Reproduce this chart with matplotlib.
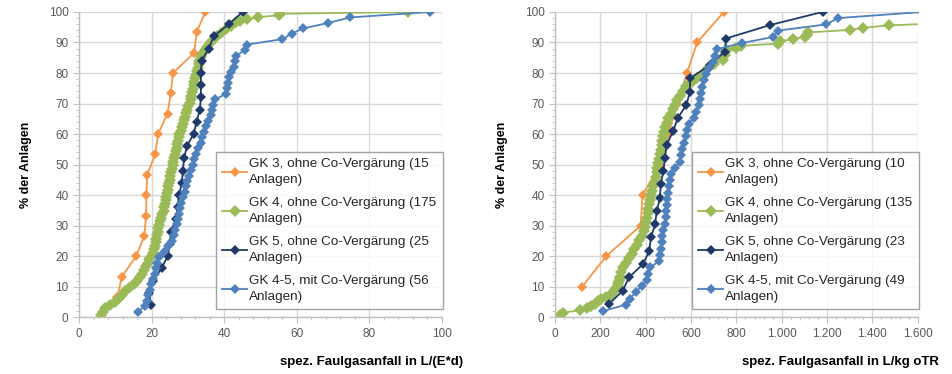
import matplotlib
matplotlib.use("Agg")
import matplotlib.pyplot as plt
from matplotlib.ticker import MultipleLocator

plt.rcParams["font.family"] = ["Liberation Sans", "DejaVu Sans"]

# ---------- Daten ----------
# linkes Diagramm: spez. Faulgasanfall in L/(E*d)
gk3_l_x = [10.6, 11.8, 15.8, 18.0, 18.5, 18.6, 18.8, 21.0, 21.8, 24.4, 25.3, 25.9, 31.8, 32.4, 34.8]
gk3_l_y = [6.7, 13.3, 20.0, 26.7, 33.3, 40.0, 46.7, 53.3, 60.0, 66.7, 73.3, 80.0, 86.7, 93.3, 100.0]

gk4_l_x = [6.0, 6.6, 7.3, 8.5, 9.8, 10.9, 11.8, 12.8, 13.9, 15.2, 16.0, 16.8, 17.3, 17.8, 18.4,
           18.9, 19.4, 20.0, 20.3, 20.6, 20.9, 21.1, 21.3, 21.5, 21.7, 21.9, 22.1, 22.4, 22.7, 23.0,
           23.3, 23.5, 23.7, 23.9, 24.0, 24.2, 24.4, 24.6, 24.8, 25.0, 25.2, 25.4, 25.6, 25.8, 26.0,
           26.2, 26.5, 26.7, 26.9, 27.1, 27.3, 27.5, 27.7, 28.0, 28.3, 28.6, 28.9, 29.2, 29.5, 29.8,
           30.1, 30.5, 30.8, 31.0, 31.2, 31.4, 31.6, 31.8, 32.0, 32.2, 32.5, 32.7, 33.0, 33.2, 33.5,
           34.0, 34.6, 35.2, 36.0, 37.0, 38.0, 39.2, 40.5, 42.0, 43.4, 44.5, 46.2, 49.4, 55.0, 55.4,
           90.7]
gk4_l_y = [0.6, 1.7, 2.9, 4.0, 5.1, 6.3, 7.4, 8.6, 9.7, 10.9, 12.0, 13.1, 14.3, 15.4, 16.6,
           17.7, 18.9, 20.0, 21.1, 22.3, 23.4, 24.6, 25.7, 26.9, 28.0, 29.1, 30.3, 31.4, 32.6, 33.7,
           34.9, 36.0, 37.1, 38.3, 39.4, 40.6, 41.7, 42.9, 44.0, 45.1, 46.3, 47.4, 48.6, 49.7, 50.9,
           52.0, 53.1, 54.3, 55.4, 56.6, 57.7, 58.9, 60.0, 61.1, 62.3, 63.4, 64.6, 65.7, 66.9, 68.0,
           69.1, 70.3, 71.4, 72.6, 73.7, 74.9, 76.0, 77.1, 78.3, 79.4, 80.6, 81.7, 82.9, 84.0, 85.1,
           86.3, 87.4, 88.6, 89.7, 90.9, 92.0, 93.1, 94.3, 95.4, 96.6, 97.1, 97.7, 98.3, 98.9, 99.4,
           100.0]

gk5_l_x = [19.8, 19.4, 20.3, 22.8, 24.4, 25.1, 25.3, 26.7, 27.2, 27.5, 28.4, 28.6, 29.0, 29.7,
           31.6, 32.4, 33.3, 33.6, 33.6, 33.6, 33.8, 35.8, 37.1, 41.3, 45.1]
gk5_l_y = [4, 8, 12, 16, 20, 24, 28, 32, 36, 40, 44, 48, 52, 56, 60, 64, 68, 72, 76, 80, 84, 88,
           92, 96, 100]

gk45_l_x = [16.2, 18.2, 18.8, 19.1, 19.6, 19.8, 20.3, 20.9, 21.3, 21.6, 22.0, 23.3, 24.5, 25.5,
            26.2, 26.6, 27.0, 27.4, 27.6, 27.8, 28.2, 28.6, 29.1, 29.4, 29.8, 30.3, 30.8, 31.4,
            31.8, 32.3, 32.9, 33.5, 34.0, 34.4, 34.9, 35.5, 36.3, 36.7, 37.0, 37.6, 40.6, 40.9,
            41.1, 41.4, 41.8, 42.6, 43.1, 43.4, 45.7, 46.2, 56.1, 58.6, 61.8, 68.7, 74.7, 96.7]
gk45_l_y = [1.8, 3.6, 5.4, 7.1, 8.9, 10.7, 12.5, 14.3, 16.1, 17.9, 19.6, 21.4, 23.2, 25.0,
            26.8, 28.6, 30.4, 32.1, 33.9, 35.7, 37.5, 39.3, 41.1, 42.9, 44.6, 46.4, 48.2, 50.0,
            51.8, 53.6, 55.4, 57.1, 58.9, 60.7, 62.5, 64.3, 66.1, 67.9, 69.6, 71.4, 73.2, 75.0,
            76.8, 78.6, 80.4, 82.1, 83.9, 85.7, 87.5, 89.3, 91.1, 92.9, 94.6, 96.4, 98.2, 100.0]

# rechtes Diagramm: spez. Faulgasanfall in L/kg oTR
gk3_r_x = [120, 226, 378, 386, 463, 500, 540, 582, 627, 745]
gk3_r_y = [10, 20, 30, 40, 50, 60, 70, 80, 90, 100]

gk4_r_x = [22, 35, 110, 140, 160, 178, 190, 205, 225, 245, 257, 265, 270, 276, 280, 284, 286,
           288, 292, 302, 315, 327, 340, 350, 360, 372, 385, 391, 395, 400, 404, 408, 411, 415,
           419, 425, 430, 433, 440, 446, 448, 451, 456, 460, 464, 467, 470, 472, 475, 480, 487,
           492, 500, 511, 520, 530, 540, 553, 565, 580, 605, 628, 655, 675, 700, 742, 752, 757,
           800, 820, 984, 994, 1050, 1102, 1110, 1116, 1300, 1359, 1473, 1700, 2000, 2500]
gk4_r_y = [0.7, 1.5, 2.2, 3.0, 3.7, 4.4, 5.2, 5.9, 6.7, 7.4, 8.1, 8.9, 9.6, 10.4, 11.1, 11.9,
           12.6, 13.3, 14.8, 16.3, 17.8, 19.3, 20.7, 22.2, 23.7, 25.2, 26.7, 28.1, 29.6, 31.1,
           32.6, 34.1, 35.6, 37.0, 38.5, 40.0, 41.5, 43.0, 44.4, 45.9, 47.4, 48.9, 50.4, 51.9,
           53.3, 54.8, 56.3, 57.8, 59.3, 60.7, 62.2, 63.7, 65.2, 66.7, 68.1, 69.6, 71.1, 72.6,
           74.1, 75.6, 77.0, 78.5, 80.0, 81.5, 83.0, 84.4, 85.9, 87.4, 88.1, 88.9, 89.6, 90.4,
           91.1, 91.9, 92.6, 93.3, 94.1, 94.8, 95.6, 96.3, 97.8, 100.0]

gk5_r_x = [238, 299, 326, 388, 416, 423, 441, 449, 463, 466, 478, 485, 492, 521, 541, 580, 595,
           596, 683, 749, 754, 948, 1180]
gk5_r_y = [4.3, 8.7, 13.0, 17.4, 21.7, 26.1, 30.4, 34.8, 39.1, 43.5, 47.8, 52.2, 56.5, 60.9,
           65.2, 69.6, 73.9, 78.3, 82.6, 87.0, 91.3, 95.7, 100.0]

gk45_r_x = [213, 313, 330, 357, 382, 404, 411, 419, 460, 465, 468, 470, 473, 478, 485, 488, 490,
            492, 495, 498, 503, 507, 510, 530, 550, 556, 562, 568, 576, 583, 590, 612, 622, 633,
            640, 645, 650, 657, 664, 680, 695, 705, 713, 823, 962, 984, 1194, 1249, 1620]
gk45_r_y = [2.0, 4.1, 6.1, 8.2, 10.2, 12.2, 14.3, 16.3, 18.4, 20.4, 22.4, 24.5, 26.5, 28.6,
            30.6, 32.7, 34.7, 36.7, 38.8, 40.8, 42.9, 44.9, 46.9, 49.0, 51.0, 53.1, 55.1, 57.1,
            59.2, 61.2, 63.3, 65.3, 67.3, 69.4, 71.4, 73.5, 75.5, 77.6, 79.6, 81.6, 83.7, 85.7,
            87.8, 89.8, 91.8, 93.9, 95.9, 98.0, 100.0]

labels_l = ["GK 3, ohne Co-Vergärung (15\nAnlagen)",
            "GK 4, ohne Co-Vergärung (175\nAnlagen)",
            "GK 5, ohne Co-Vergärung (25\nAnlagen)",
            "GK 4-5, mit Co-Vergärung (56\nAnlagen)"]
labels_r = ["GK 3, ohne Co-Vergärung (10\nAnlagen)",
            "GK 4, ohne Co-Vergärung (135\nAnlagen)",
            "GK 5, ohne Co-Vergärung (23\nAnlagen)",
            "GK 4-5, mit Co-Vergärung (49\nAnlagen)"]

xticks_r = [0, 200, 400, 600, 800, 1000, 1200, 1400, 1600]
xticklabels_r = ["0", "200", "400", "600", "800", "1.000", "1.200", "1.400", "1.600"]

colors = ["#F79646", "#9BBB59", "#1F3A68", "#4F81BD"]
msizes = [5.5, 6.5, 5.5, 5.5]
text_col = "#595959"
grid_col = "#D9D9D9"


def style_axis(ax, xmax, xmajor, xminor):
    ax.set_xlim(0, xmax)
    ax.set_ylim(0, 100)
    ax.xaxis.set_major_locator(MultipleLocator(xmajor))
    ax.xaxis.set_minor_locator(MultipleLocator(xminor))
    ax.yaxis.set_major_locator(MultipleLocator(10))
    ax.yaxis.set_minor_locator(MultipleLocator(2))
    ax.grid(True, which="major", color=grid_col, linewidth=1.0)
    ax.set_axisbelow(True)
    for s in ["top", "right"]:
        ax.spines[s].set_visible(False)
    for s in ["left", "bottom"]:
        ax.spines[s].set_color("#BFBFBF")
        ax.spines[s].set_linewidth(1.0)
    ax.tick_params(which="both", direction="out", colors="#BFBFBF", labelcolor=text_col,
                   labelsize=8.5)
    ax.tick_params(which="major", length=4)
    ax.tick_params(which="minor", length=2.5)
    ax.set_ylabel("% der Anlagen", fontsize=9, fontweight="bold", labelpad=12)


def draw(ax, series, labels):
    for (xs, ys), c, ms, lab in zip(series, colors, msizes, labels):
        ax.plot(xs, ys, color=c, marker="D", markersize=ms, linewidth=1.3,
                markeredgewidth=0, label=lab)
    leg = ax.legend(loc="upper left", bbox_to_anchor=(0.377, 0.541), borderaxespad=0,
                    fontsize=9.7, frameon=True, fancybox=False, handlelength=1.9,
                    labelspacing=0.85, borderpad=0.45, handletextpad=0.15, markerscale=0.9)
    leg.get_frame().set_edgecolor("#8C8C8C")
    leg.get_frame().set_linewidth(1.0)
    for t in leg.get_texts():
        t.set_color("#262626")
        t.set_linespacing(1.4)


fig = plt.figure(figsize=(9.52, 3.74), dpi=100)
ax1 = fig.add_axes([0.083, 0.152, 0.381, 0.816])
ax2 = fig.add_axes([0.583, 0.152, 0.381, 0.816])

style_axis(ax1, 100, 20, 4)
style_axis(ax2, 1600, 200, 40)
ax2.set_xticks(xticks_r)
ax2.set_xticklabels(xticklabels_r)

draw(ax1, [(gk3_l_x, gk3_l_y), (gk4_l_x, gk4_l_y), (gk5_l_x, gk5_l_y), (gk45_l_x, gk45_l_y)],
     labels_l)
draw(ax2, [(gk3_r_x, gk3_r_y), (gk4_r_x, gk4_r_y), (gk5_r_x, gk5_r_y), (gk45_r_x, gk45_r_y)],
     labels_r)

fig.text(463 / 952, 1 - 362 / 374, "spez. Faulgasanfall in L/(E*d)", ha="right", va="center",
         fontsize=9.5, fontweight="bold")
fig.text(939 / 952, 1 - 362 / 374, "spez. Faulgasanfall in L/kg oTR", ha="right", va="center",
         fontsize=9.5, fontweight="bold")

fig.savefig("out.png", dpi=100)
